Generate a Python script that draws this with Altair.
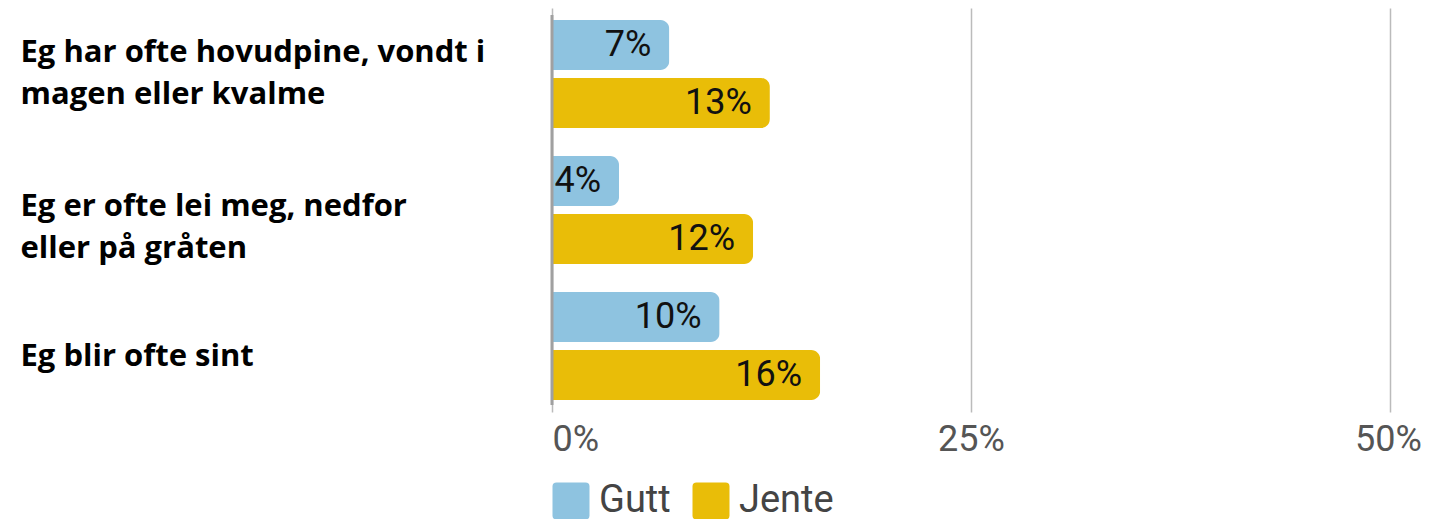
import altair as alt
import pandas as pd

categories = [
    "Eg har ofte hovudpine, vondt i\nmagen eller kvalme",
    "Eg er ofte lei meg, nedfor\n\u00a0eller på gråten",
    "Eg blir ofte sint",
]
groups = ["Gutt", "Jente"]
gutt = [7, 4, 10]
jente = [13, 12, 16]
x_ticks = [0, 25, 50]
colors = ["#8EC3E0", "#E9BD08"]

rows = []
for i, c in enumerate(categories):
    rows.append({"cat": c, "kjonn": "Gutt", "v": gutt[i], "lab": f"{gutt[i]}%"})
    rows.append({"cat": c, "kjonn": "Jente", "v": jente[i], "lab": f"{jente[i]}%"})
df = pd.DataFrame(rows)

rounded_sq = "M-0.78,-1H0.78Q1,-1 1,-0.78V0.78Q1,1 0.78,1H-0.78Q-1,1 -1,0.78V-0.78Q-1,-1 -0.78,-1Z"

xscale = alt.Scale(domain=[0, 50], nice=False)
yscale = alt.Scale(domain=categories, paddingInner=0.2059, paddingOuter=0.0882)
yoff = alt.YOffset("kjonn:N", scale=alt.Scale(domain=groups, paddingInner=0.138, paddingOuter=0))

base = alt.Chart(df)

bars = base.mark_bar(cornerRadiusEnd=9).encode(
    x=alt.X("v:Q", scale=xscale, axis=alt.Axis(
        values=x_ticks, labelExpr="datum.value + '%'", title=None,
        grid=True, gridColor="#BBBBBB", gridWidth=1.5, domain=False, ticks=False,
        labelFont="Roboto", labelFontSize=36, labelColor="#555555", labelPadding=10,
        labelAlign=alt.expr("datum.value == 0 ? 'left' : 'center'"),
        labelOffset=alt.expr("datum.value == 50 ? -2 : 0"),
    )),
    y=alt.Y("cat:N", scale=yscale, sort=categories, axis=alt.Axis(
        title=None, domain=False, ticks=False, labelAlign="left", labelPadding=532,
        labelFont="Open Sans", labelFontWeight="bold", labelFontSize=31, labelColor="#000000",
        labelLimit=0, labelLineHeight=42, labelExpr="split(datum.label, '\\n')",
        labelBaseline="middle",
        labelOffset=alt.expr("datum.index < 0.25 ? -21 : (datum.index < 0.75 ? -3 : 11)"),
    )),
    yOffset=yoff,
    color=alt.Color("kjonn:N", scale=alt.Scale(domain=groups, range=colors), legend=alt.Legend(
        title=None, orient="bottom", direction="horizontal", symbolType=rounded_sq,
        symbolSize=1369, symbolStrokeWidth=0, labelFont="Roboto", labelFontSize=38,
        labelColor="#444444", labelOffset=9, columnPadding=21, offset=25,
    )),
)

texts = base.mark_text(align="right", baseline="middle", dx=-18, font="Roboto",
                       fontSize=36, color="#111111").encode(
    x=alt.X("v:Q", scale=xscale),
    y=alt.Y("cat:N", scale=yscale, sort=categories),
    yOffset=yoff,
    text="lab:N",
)

zero = alt.Chart(pd.DataFrame({"t": [0]})).mark_rule(color="#A0A0A0", strokeWidth=3).encode(
    x=alt.X("t:Q", scale=xscale),
    y=alt.value(7),
    y2=alt.value(397),
)

chart = alt.layer(bars, texts, zero).properties(
    width=838, height=404,
    autosize=alt.AutoSizeParams(type="none"),
    padding={"left": 544, "top": 0, "right": 32, "bottom": 111},
).configure_view(stroke=None)

chart.save("out.html", embed_options={"renderer": "svg", "actions": False})
